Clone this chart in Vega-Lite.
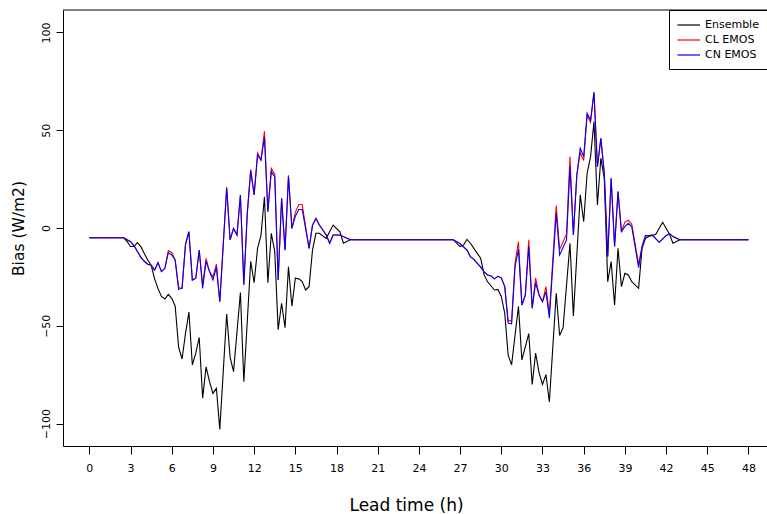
{
"$schema":"https://vega.github.io/schema/vega-lite/v6.json",
"width":704,"height":436,
"autosize":{"type":"none"},
"padding":{"left":63,"top":10,"right":0,"bottom":68},
"background":"white",
"config":{"view":{"stroke":null},"font":"DejaVu Sans","axis":{"labelFont":"DejaVu Sans","titleFont":"DejaVu Sans"},"legend":{"labelFont":"DejaVu Sans"}},
"data":{"values":[
{"t":0,"s":"Ensemble","v":-5},{"t":2.5,"s":"Ensemble","v":-5},{"t":2.75,"s":"Ensemble","v":-7},{"t":3,"s":"Ensemble","v":-9.5},{"t":3.25,"s":"Ensemble","v":-9.5},{"t":3.5,"s":"Ensemble","v":-7.5},{"t":3.75,"s":"Ensemble","v":-9.5},{"t":4,"s":"Ensemble","v":-13},{"t":4.25,"s":"Ensemble","v":-16.4},{"t":4.5,"s":"Ensemble","v":-19},{"t":4.75,"s":"Ensemble","v":-26},{"t":5,"s":"Ensemble","v":-31},{"t":5.25,"s":"Ensemble","v":-35},{"t":5.5,"s":"Ensemble","v":-36.3},{"t":5.75,"s":"Ensemble","v":-34},{"t":6,"s":"Ensemble","v":-36},{"t":6.25,"s":"Ensemble","v":-40},{"t":6.5,"s":"Ensemble","v":-61},{"t":6.75,"s":"Ensemble","v":-67},{"t":7,"s":"Ensemble","v":-54},{"t":7.25,"s":"Ensemble","v":-43},{"t":7.5,"s":"Ensemble","v":-70},{"t":7.75,"s":"Ensemble","v":-64},{"t":8,"s":"Ensemble","v":-56},{"t":8.25,"s":"Ensemble","v":-87},{"t":8.5,"s":"Ensemble","v":-71},{"t":8.75,"s":"Ensemble","v":-78.6},{"t":9,"s":"Ensemble","v":-84.6},{"t":9.25,"s":"Ensemble","v":-82},{"t":9.5,"s":"Ensemble","v":-103},{"t":10,"s":"Ensemble","v":-44},{"t":10.25,"s":"Ensemble","v":-66},{"t":10.5,"s":"Ensemble","v":-73.5},{"t":11,"s":"Ensemble","v":-33},{"t":11.25,"s":"Ensemble","v":-78.6},{"t":11.75,"s":"Ensemble","v":-17},{"t":12,"s":"Ensemble","v":-28},{"t":12.25,"s":"Ensemble","v":-10.4},{"t":12.5,"s":"Ensemble","v":-3.6},{"t":12.75,"s":"Ensemble","v":16},{"t":13,"s":"Ensemble","v":-28},{"t":13.25,"s":"Ensemble","v":-2.7},{"t":13.5,"s":"Ensemble","v":-12},{"t":13.75,"s":"Ensemble","v":-52},{"t":14,"s":"Ensemble","v":-38.5},{"t":14.25,"s":"Ensemble","v":-51},{"t":14.5,"s":"Ensemble","v":-19.8},{"t":14.75,"s":"Ensemble","v":-40},{"t":15,"s":"Ensemble","v":-25.7},{"t":15.25,"s":"Ensemble","v":-26},{"t":15.5,"s":"Ensemble","v":-27.4},{"t":15.75,"s":"Ensemble","v":-31.7},{"t":16,"s":"Ensemble","v":-30},{"t":16.25,"s":"Ensemble","v":-11.3},{"t":16.5,"s":"Ensemble","v":-2.7},{"t":16.75,"s":"Ensemble","v":-2.7},{"t":17.25,"s":"Ensemble","v":-5.3},{"t":17.75,"s":"Ensemble","v":1.5},{"t":18.25,"s":"Ensemble","v":-2},{"t":18.5,"s":"Ensemble","v":-7.8},{"t":19,"s":"Ensemble","v":-6},{"t":26.5,"s":"Ensemble","v":-6},{"t":27,"s":"Ensemble","v":-9.5},{"t":27.25,"s":"Ensemble","v":-8.7},{"t":27.5,"s":"Ensemble","v":-5.8},{"t":27.75,"s":"Ensemble","v":-7.8},{"t":28.25,"s":"Ensemble","v":-13},{"t":28.5,"s":"Ensemble","v":-15.5},{"t":28.75,"s":"Ensemble","v":-24},{"t":29,"s":"Ensemble","v":-27.5},{"t":29.5,"s":"Ensemble","v":-31.7},{"t":29.75,"s":"Ensemble","v":-31.4},{"t":30,"s":"Ensemble","v":-35},{"t":30.25,"s":"Ensemble","v":-43.6},{"t":30.5,"s":"Ensemble","v":-65},{"t":30.75,"s":"Ensemble","v":-70},{"t":31.25,"s":"Ensemble","v":-40},{"t":31.5,"s":"Ensemble","v":-67.5},{"t":32,"s":"Ensemble","v":-54},{"t":32.25,"s":"Ensemble","v":-80},{"t":32.5,"s":"Ensemble","v":-64},{"t":32.75,"s":"Ensemble","v":-74},{"t":33,"s":"Ensemble","v":-80},{"t":33.25,"s":"Ensemble","v":-75},{"t":33.5,"s":"Ensemble","v":-89},{"t":34,"s":"Ensemble","v":-33.4},{"t":34.25,"s":"Ensemble","v":-55},{"t":34.5,"s":"Ensemble","v":-51},{"t":35,"s":"Ensemble","v":-7.8},{"t":35.25,"s":"Ensemble","v":-45},{"t":35.75,"s":"Ensemble","v":17},{"t":36,"s":"Ensemble","v":3.2},{"t":36.25,"s":"Ensemble","v":28},{"t":36.5,"s":"Ensemble","v":36.5},{"t":36.75,"s":"Ensemble","v":54.4},{"t":37,"s":"Ensemble","v":11.8},{"t":37.25,"s":"Ensemble","v":35.7},{"t":37.5,"s":"Ensemble","v":25.4},{"t":37.75,"s":"Ensemble","v":-27.5},{"t":38,"s":"Ensemble","v":-17.2},{"t":38.25,"s":"Ensemble","v":-39.4},{"t":38.5,"s":"Ensemble","v":-10.4},{"t":38.75,"s":"Ensemble","v":-30},{"t":39,"s":"Ensemble","v":-23.2},{"t":39.25,"s":"Ensemble","v":-24},{"t":39.5,"s":"Ensemble","v":-27.5},{"t":40,"s":"Ensemble","v":-30.9},{"t":40.25,"s":"Ensemble","v":-10.4},{"t":40.5,"s":"Ensemble","v":-5.3},{"t":40.75,"s":"Ensemble","v":-4.4},{"t":41.25,"s":"Ensemble","v":-3.2},{"t":41.75,"s":"Ensemble","v":2.9},{"t":42.25,"s":"Ensemble","v":-3.2},{"t":42.5,"s":"Ensemble","v":-7.8},{"t":43,"s":"Ensemble","v":-6},{"t":48,"s":"Ensemble","v":-6},
{"t":0,"s":"CL EMOS","v":-5},{"t":2.5,"s":"CL EMOS","v":-5},{"t":3,"s":"CL EMOS","v":-7},{"t":3.25,"s":"CL EMOS","v":-9},{"t":3.5,"s":"CL EMOS","v":-12},{"t":3.75,"s":"CL EMOS","v":-15},{"t":4,"s":"CL EMOS","v":-17},{"t":4.25,"s":"CL EMOS","v":-18.5},{"t":4.5,"s":"CL EMOS","v":-19},{"t":4.75,"s":"CL EMOS","v":-21.5},{"t":5,"s":"CL EMOS","v":-17.7},{"t":5.25,"s":"CL EMOS","v":-22.3},{"t":5.5,"s":"CL EMOS","v":-20.6},{"t":5.75,"s":"CL EMOS","v":-11.5},{"t":6,"s":"CL EMOS","v":-12.5},{"t":6.25,"s":"CL EMOS","v":-16.4},{"t":6.5,"s":"CL EMOS","v":-30.5},{"t":6.75,"s":"CL EMOS","v":-30.9},{"t":7,"s":"CL EMOS","v":-8},{"t":7.25,"s":"CL EMOS","v":-1.9},{"t":7.5,"s":"CL EMOS","v":-26.6},{"t":7.75,"s":"CL EMOS","v":-25.7},{"t":8,"s":"CL EMOS","v":-11.3},{"t":8.25,"s":"CL EMOS","v":-29},{"t":8.5,"s":"CL EMOS","v":-15.5},{"t":8.75,"s":"CL EMOS","v":-22.3},{"t":9,"s":"CL EMOS","v":-25},{"t":9.25,"s":"CL EMOS","v":-18.5},{"t":9.5,"s":"CL EMOS","v":-37.7},{"t":10,"s":"CL EMOS","v":21},{"t":10.25,"s":"CL EMOS","v":-6.1},{"t":10.5,"s":"CL EMOS","v":-0.2},{"t":10.75,"s":"CL EMOS","v":-3.6},{"t":11,"s":"CL EMOS","v":16.9},{"t":11.25,"s":"CL EMOS","v":-29},{"t":11.5,"s":"CL EMOS","v":7.5},{"t":11.75,"s":"CL EMOS","v":30},{"t":12,"s":"CL EMOS","v":16.9},{"t":12.25,"s":"CL EMOS","v":38.5},{"t":12.5,"s":"CL EMOS","v":34.8},{"t":12.75,"s":"CL EMOS","v":49.5},{"t":13,"s":"CL EMOS","v":8.3},{"t":13.25,"s":"CL EMOS","v":30.5},{"t":13.5,"s":"CL EMOS","v":27.5},{"t":13.75,"s":"CL EMOS","v":-26.6},{"t":14,"s":"CL EMOS","v":15.2},{"t":14.25,"s":"CL EMOS","v":-11.3},{"t":14.5,"s":"CL EMOS","v":27},{"t":14.75,"s":"CL EMOS","v":-0.2},{"t":15,"s":"CL EMOS","v":8},{"t":15.25,"s":"CL EMOS","v":12},{"t":15.5,"s":"CL EMOS","v":12},{"t":16,"s":"CL EMOS","v":-10.4},{"t":16.25,"s":"CL EMOS","v":1.5},{"t":16.5,"s":"CL EMOS","v":4.9},{"t":16.75,"s":"CL EMOS","v":1.5},{"t":17.25,"s":"CL EMOS","v":-3.6},{"t":17.5,"s":"CL EMOS","v":-7.8},{"t":17.75,"s":"CL EMOS","v":-3.6},{"t":18.25,"s":"CL EMOS","v":-3.6},{"t":19,"s":"CL EMOS","v":-6},{"t":26.5,"s":"CL EMOS","v":-6},{"t":27,"s":"CL EMOS","v":-8},{"t":27.5,"s":"CL EMOS","v":-11.3},{"t":27.75,"s":"CL EMOS","v":-14.7},{"t":28,"s":"CL EMOS","v":-16},{"t":28.5,"s":"CL EMOS","v":-20},{"t":28.75,"s":"CL EMOS","v":-22.5},{"t":29,"s":"CL EMOS","v":-24},{"t":29.25,"s":"CL EMOS","v":-24.5},{"t":29.5,"s":"CL EMOS","v":-26},{"t":29.75,"s":"CL EMOS","v":-24.7},{"t":30,"s":"CL EMOS","v":-25.5},{"t":30.25,"s":"CL EMOS","v":-30},{"t":30.5,"s":"CL EMOS","v":-47.5},{"t":30.75,"s":"CL EMOS","v":-47.5},{"t":31,"s":"CL EMOS","v":-18},{"t":31.25,"s":"CL EMOS","v":-7},{"t":31.5,"s":"CL EMOS","v":-39.4},{"t":31.75,"s":"CL EMOS","v":-34.3},{"t":32,"s":"CL EMOS","v":-6},{"t":32.25,"s":"CL EMOS","v":-41},{"t":32.5,"s":"CL EMOS","v":-25.5},{"t":32.75,"s":"CL EMOS","v":-34.3},{"t":33,"s":"CL EMOS","v":-37.7},{"t":33.25,"s":"CL EMOS","v":-30},{"t":33.5,"s":"CL EMOS","v":-44},{"t":34,"s":"CL EMOS","v":11.5},{"t":34.25,"s":"CL EMOS","v":-11},{"t":34.5,"s":"CL EMOS","v":-7},{"t":34.75,"s":"CL EMOS","v":-3},{"t":35,"s":"CL EMOS","v":36.5},{"t":35.25,"s":"CL EMOS","v":-3.6},{"t":35.5,"s":"CL EMOS","v":27.1},{"t":35.75,"s":"CL EMOS","v":38.5},{"t":36,"s":"CL EMOS","v":34.5},{"t":36.25,"s":"CL EMOS","v":57.5},{"t":36.5,"s":"CL EMOS","v":54},{"t":36.75,"s":"CL EMOS","v":69.4},{"t":37,"s":"CL EMOS","v":31.4},{"t":37.25,"s":"CL EMOS","v":45.9},{"t":37.5,"s":"CL EMOS","v":28},{"t":37.75,"s":"CL EMOS","v":-14.7},{"t":38,"s":"CL EMOS","v":25.4},{"t":38.25,"s":"CL EMOS","v":-9.5},{"t":38.5,"s":"CL EMOS","v":18.6},{"t":38.75,"s":"CL EMOS","v":-1.9},{"t":39,"s":"CL EMOS","v":3},{"t":39.25,"s":"CL EMOS","v":4},{"t":39.5,"s":"CL EMOS","v":2},{"t":40,"s":"CL EMOS","v":-18.5},{"t":40.25,"s":"CL EMOS","v":-9.5},{"t":40.5,"s":"CL EMOS","v":-3.9},{"t":40.75,"s":"CL EMOS","v":-3.9},{"t":41,"s":"CL EMOS","v":-3.6},{"t":41.5,"s":"CL EMOS","v":-7.3},{"t":42,"s":"CL EMOS","v":-3.9},{"t":42.25,"s":"CL EMOS","v":-2.9},{"t":42.5,"s":"CL EMOS","v":-4.4},{"t":43,"s":"CL EMOS","v":-6},{"t":48,"s":"CL EMOS","v":-6},
{"t":0,"s":"CN EMOS","v":-5},{"t":2.5,"s":"CN EMOS","v":-5},{"t":3,"s":"CN EMOS","v":-7},{"t":3.25,"s":"CN EMOS","v":-9},{"t":3.5,"s":"CN EMOS","v":-12},{"t":3.75,"s":"CN EMOS","v":-15},{"t":4,"s":"CN EMOS","v":-17},{"t":4.25,"s":"CN EMOS","v":-18.5},{"t":4.5,"s":"CN EMOS","v":-19},{"t":4.75,"s":"CN EMOS","v":-21.5},{"t":5,"s":"CN EMOS","v":-17.7},{"t":5.25,"s":"CN EMOS","v":-22.3},{"t":5.5,"s":"CN EMOS","v":-20.6},{"t":5.75,"s":"CN EMOS","v":-12.6},{"t":6,"s":"CN EMOS","v":-13.8},{"t":6.25,"s":"CN EMOS","v":-16.4},{"t":6.5,"s":"CN EMOS","v":-31.4},{"t":6.75,"s":"CN EMOS","v":-30.9},{"t":7,"s":"CN EMOS","v":-8.7},{"t":7.25,"s":"CN EMOS","v":-1.9},{"t":7.5,"s":"CN EMOS","v":-26.6},{"t":7.75,"s":"CN EMOS","v":-25.7},{"t":8,"s":"CN EMOS","v":-11.3},{"t":8.25,"s":"CN EMOS","v":-30.9},{"t":8.5,"s":"CN EMOS","v":-17},{"t":8.75,"s":"CN EMOS","v":-22.3},{"t":9,"s":"CN EMOS","v":-26.6},{"t":9.25,"s":"CN EMOS","v":-20},{"t":9.5,"s":"CN EMOS","v":-37.7},{"t":10,"s":"CN EMOS","v":20.3},{"t":10.25,"s":"CN EMOS","v":-6.1},{"t":10.5,"s":"CN EMOS","v":-0.2},{"t":10.75,"s":"CN EMOS","v":-3.6},{"t":11,"s":"CN EMOS","v":16.9},{"t":11.25,"s":"CN EMOS","v":-29},{"t":11.5,"s":"CN EMOS","v":7.5},{"t":11.75,"s":"CN EMOS","v":29.3},{"t":12,"s":"CN EMOS","v":16.9},{"t":12.25,"s":"CN EMOS","v":37.3},{"t":12.5,"s":"CN EMOS","v":34.8},{"t":12.75,"s":"CN EMOS","v":46.5},{"t":13,"s":"CN EMOS","v":8.3},{"t":13.25,"s":"CN EMOS","v":28.8},{"t":13.5,"s":"CN EMOS","v":26.2},{"t":13.75,"s":"CN EMOS","v":-26.6},{"t":14,"s":"CN EMOS","v":15.2},{"t":14.25,"s":"CN EMOS","v":-11.3},{"t":14.5,"s":"CN EMOS","v":26.2},{"t":14.75,"s":"CN EMOS","v":-0.2},{"t":15,"s":"CN EMOS","v":6},{"t":15.25,"s":"CN EMOS","v":9.5},{"t":15.5,"s":"CN EMOS","v":9.5},{"t":16,"s":"CN EMOS","v":-10.4},{"t":16.25,"s":"CN EMOS","v":1.5},{"t":16.5,"s":"CN EMOS","v":4.9},{"t":16.75,"s":"CN EMOS","v":1.5},{"t":17.25,"s":"CN EMOS","v":-3.6},{"t":17.5,"s":"CN EMOS","v":-7.8},{"t":17.75,"s":"CN EMOS","v":-3.6},{"t":18.25,"s":"CN EMOS","v":-3.6},{"t":19,"s":"CN EMOS","v":-6},{"t":26.5,"s":"CN EMOS","v":-6},{"t":27,"s":"CN EMOS","v":-8},{"t":27.5,"s":"CN EMOS","v":-11.3},{"t":27.75,"s":"CN EMOS","v":-14.7},{"t":28,"s":"CN EMOS","v":-16},{"t":28.5,"s":"CN EMOS","v":-20},{"t":28.75,"s":"CN EMOS","v":-22.5},{"t":29,"s":"CN EMOS","v":-24},{"t":29.25,"s":"CN EMOS","v":-24.5},{"t":29.5,"s":"CN EMOS","v":-26},{"t":29.75,"s":"CN EMOS","v":-24.7},{"t":30,"s":"CN EMOS","v":-25.5},{"t":30.25,"s":"CN EMOS","v":-30},{"t":30.5,"s":"CN EMOS","v":-48.7},{"t":30.75,"s":"CN EMOS","v":-49},{"t":31,"s":"CN EMOS","v":-19.8},{"t":31.25,"s":"CN EMOS","v":-10.9},{"t":31.5,"s":"CN EMOS","v":-39.4},{"t":31.75,"s":"CN EMOS","v":-34.3},{"t":32,"s":"CN EMOS","v":-9.5},{"t":32.25,"s":"CN EMOS","v":-41},{"t":32.5,"s":"CN EMOS","v":-28},{"t":32.75,"s":"CN EMOS","v":-34.3},{"t":33,"s":"CN EMOS","v":-37.7},{"t":33.25,"s":"CN EMOS","v":-32.6},{"t":33.5,"s":"CN EMOS","v":-46},{"t":34,"s":"CN EMOS","v":7.5},{"t":34.25,"s":"CN EMOS","v":-13.8},{"t":34.5,"s":"CN EMOS","v":-10},{"t":34.75,"s":"CN EMOS","v":-6.1},{"t":35,"s":"CN EMOS","v":31.4},{"t":35.25,"s":"CN EMOS","v":-3.6},{"t":35.5,"s":"CN EMOS","v":27.1},{"t":35.75,"s":"CN EMOS","v":40.8},{"t":36,"s":"CN EMOS","v":36.5},{"t":36.25,"s":"CN EMOS","v":58.7},{"t":36.5,"s":"CN EMOS","v":55.2},{"t":36.75,"s":"CN EMOS","v":69.4},{"t":37,"s":"CN EMOS","v":31.4},{"t":37.25,"s":"CN EMOS","v":45.9},{"t":37.5,"s":"CN EMOS","v":28},{"t":37.75,"s":"CN EMOS","v":-14.7},{"t":38,"s":"CN EMOS","v":25.4},{"t":38.25,"s":"CN EMOS","v":-9.5},{"t":38.5,"s":"CN EMOS","v":18.6},{"t":38.75,"s":"CN EMOS","v":-1.9},{"t":39,"s":"CN EMOS","v":0.7},{"t":39.25,"s":"CN EMOS","v":2.4},{"t":39.5,"s":"CN EMOS","v":0.7},{"t":40,"s":"CN EMOS","v":-20.3},{"t":40.25,"s":"CN EMOS","v":-9.5},{"t":40.5,"s":"CN EMOS","v":-3.9},{"t":40.75,"s":"CN EMOS","v":-3.9},{"t":41,"s":"CN EMOS","v":-3.6},{"t":41.5,"s":"CN EMOS","v":-7.3},{"t":42,"s":"CN EMOS","v":-3.9},{"t":42.25,"s":"CN EMOS","v":-2.9},{"t":42.5,"s":"CN EMOS","v":-4.4},{"t":43,"s":"CN EMOS","v":-6},{"t":48,"s":"CN EMOS","v":-6}
]},
"layer":[
{"data":{"values":[{}]},"mark":{"type":"rule","color":"black","strokeWidth":1},"encoding":{"y":{"datum":111.5,"type":"quantitative"}}},
{"mark":{"type":"line","strokeWidth":1.1,"interpolate":"linear"},
"encoding":{
"x":{"field":"t","type":"quantitative","scale":{"domain":[-1.92,49.35],"nice":false,"zero":false},
"axis":{"values":[0,3,6,9,12,15,18,21,24,27,30,33,36,39,42,45,48],"grid":false,"domainColor":"black","domainWidth":1,"tickColor":"black","tickSize":8,"labelFontSize":11,"labelColor":"black","labelPadding":8,"labelFlush":false,"title":"Lead time (h)","titleFontSize":17,"titleFontWeight":"normal","titleColor":"black","titleX":343,"titleY":59,"titleBaseline":"middle","titleAlign":"center"}},
"y":{"field":"v","type":"quantitative","scale":{"domain":[-111.5,111.5],"nice":false,"zero":false},
"axis":{"values":[-100,-50,0,50,100],"grid":false,"domainColor":"black","domainWidth":1,"tickColor":"black","tickSize":7,"labelAngle":-90,"labelAlign":"center","labelBaseline":"middle","labelPadding":10,"labelFontSize":11,"labelColor":"black","title":"Bias (W/m2)","titleFontSize":15.5,"titleFontWeight":"normal","titleColor":"black","titleX":-45,"titleY":218,"titleAngle":-90,"titleBaseline":"middle","titleAlign":"center"}},
"color":{"field":"s","type":"nominal","scale":{"domain":["Ensemble","CL EMOS","CN EMOS"],"range":["#000000","#ff0000","#0000ff"]},
"legend":{"title":null,"orient":"none","legendX":606,"legendY":0,"fillColor":"white","strokeColor":"black","padding":9,"symbolType":"M-1.3,0H3.2","symbolSize":100,"symbolStrokeWidth":1.2,"labelFontSize":11,"labelColor":"black","labelOffset":15,"rowPadding":4,"cornerRadius":0}}
}}
]
}
